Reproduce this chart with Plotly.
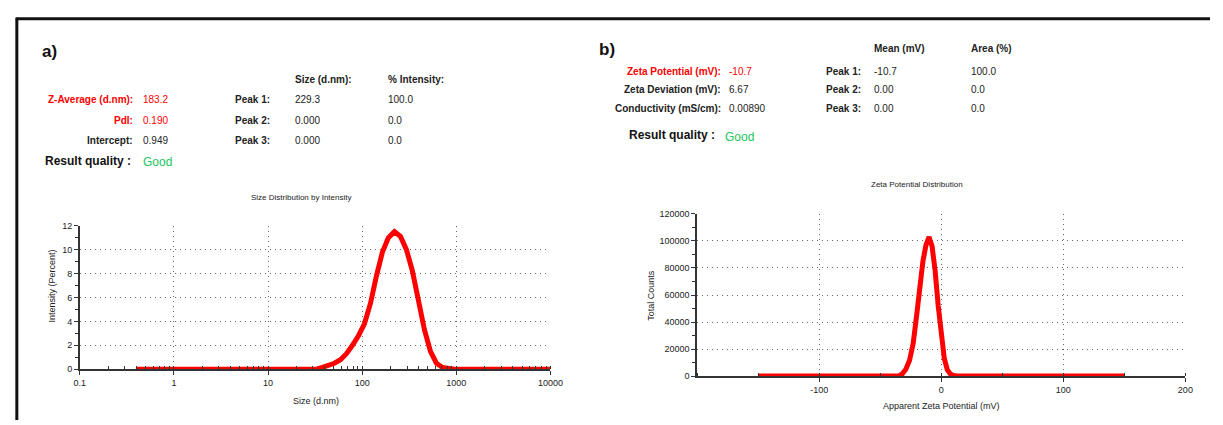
import plotly.graph_objects as go

W, H = 1223, 425

# ---------------- data ----------------
size_nm = [0.4, 1, 10, 28.2, 32.7, 37.8, 43.8, 50.7, 58.8, 68.1, 78.8, 91.3, 105.7,
           122.4, 141.8, 164.2, 190.1, 220.2, 255.0, 295.3, 342.0, 396.1, 458.7,
           531.2, 615.1, 712.4, 825.0, 955.4, 1106, 1281, 10000]
intensity_pct = [0, 0, 0, 0, 0, 0.15, 0.3, 0.5, 0.8, 1.3, 2.0, 2.8, 3.8,
                 5.5, 7.8, 9.8, 11.0, 11.5, 11.1, 10.0, 8.2, 5.8, 3.3,
                 1.5, 0.5, 0.15, 0.05, 0, 0, 0, 0]

zeta_mv = [-150, -35, -32, -29, -26, -23, -20, -17.5, -15, -12.5, -10, -7.5, -5,
           -2.5, 0, 2.5, 5, 7.5, 10, 13, 150]
zeta_counts = [0, 0, 1500, 5000, 11500, 24000, 46000, 70000, 85000, 97000, 103000,
               96000, 78000, 52000, 30000, 13000, 4500, 1500, 400, 0, 0]

size_ticks = [0.1, 1, 10, 100, 1000, 10000]
size_ticktext = ["0.1", "1", "10", "100", "1000", "10000"]
zeta_ticks = [-100, 0, 100, 200]
zeta_ticktext = ["-100", "0", "100", "200"]

# ---------------- figure ----------------
def px(x):
    return x / W

def py(y):
    return 1 - y / H

RED = "#ff0000"
GREEN = "#22c55e"
FONT = "Liberation Sans, Arial, sans-serif"
TXT = "#222222"

fig = go.Figure()
fig.add_trace(go.Scatter(x=size_nm, y=intensity_pct, mode="lines",
                         line=dict(color=RED, width=5), xaxis="x", yaxis="y",
                         showlegend=False, hoverinfo="skip"))
fig.add_trace(go.Scatter(x=zeta_mv, y=zeta_counts, mode="lines",
                         line=dict(color=RED, width=5), xaxis="x2", yaxis="y2",
                         showlegend=False, hoverinfo="skip"))

axis_common = dict(showline=True, linecolor="#333333", linewidth=1.5,
                   showgrid=True, gridcolor="#666666", griddash="1px,4px", gridwidth=1,
                   zeroline=False, tickfont=dict(family=FONT, size=9, color=TXT),
                   ticks="outside", ticklen=4, tickcolor="#333333")

fig.update_layout(
    width=W, height=H,
    margin=dict(l=0, r=0, t=0, b=0),
    paper_bgcolor="white", plot_bgcolor="white",
    xaxis=dict(axis_common, type="log", range=[-1, 4], domain=[px(75), px(553)],
               tickvals=size_ticks, ticktext=size_ticktext, anchor="y",
               minor=dict(ticks="inside", ticklen=3, tickcolor="#333333", dtick="D1",
                          showgrid=False)),
    yaxis=dict(axis_common, range=[0, 12], dtick=2, domain=[py(373), py(226)],
               anchor="x",
               minor=dict(ticks="outside", ticklen=3, tickcolor="#333333", dtick=1,
                          showgrid=False)),
    xaxis2=dict(axis_common, range=[-200, 200], domain=[px(702), px(1198)],
                tickvals=zeta_ticks, ticktext=zeta_ticktext, anchor="y2",
                minor=dict(ticks="inside", ticklen=3, tickcolor="#333333", dtick=50,
                           showgrid=False)),
    yaxis2=dict(axis_common, range=[0, 120000], dtick=20000, tickformat="d",
                domain=[py(380), py(214)], anchor="x2",
                minor=dict(ticks="outside", ticklen=3, tickcolor="#333333", dtick=10000,
                           showgrid=False)),
)

# outer frame (only the top and left edges are inside the picture)
fig.add_shape(type="line", xref="paper", yref="paper",
              x0=px(10), y0=py(14), x1=1, y1=py(14),
              line=dict(color="#111111", width=3))
fig.add_shape(type="line", xref="paper", yref="paper",
              x0=px(11), y0=py(13), x1=px(11), y1=0,
              line=dict(color="#111111", width=3))

ann = []

def text(x, y, s, size=10, color=TXT, bold=False, anchor="left", angle=0):
    t = f"<b>{s}</b>" if bold else s
    ann.append(dict(x=px(x), y=py(y), xref="paper", yref="paper", text=t,
                    showarrow=False, xanchor=anchor, yanchor="middle", textangle=angle,
                    font=dict(family=FONT, size=size, color=color)))

# ----- panel a -----
text(35, 48, "a)", size=17, color="#111111", bold=True)
text(292, 76, "Size (d.nm):", bold=True)
text(386, 76, "% Intensity:", bold=True)
rows_a = [("Z-Average (d.nm):", "183.2", RED), ("PdI:", "0.190", RED),
          ("Intercept:", "0.949", TXT)]
peaks_a = [("Peak 1:", "229.3", "100.0"), ("Peak 2:", "0.000", "0.0"),
           ("Peak 3:", "0.000", "0.0")]
for i, y in enumerate([97, 118, 139]):
    lab, val, col = rows_a[i]
    text(131, y, lab, color=col, bold=True, anchor="right")
    text(137, y, val, color=col)
    text(231, y, peaks_a[i][0], bold=True)
    text(292, y, peaks_a[i][1])
    text(386, y, peaks_a[i][2])
text(129, 160, "Result quality :", size=12, color="#111111", bold=True, anchor="right")
text(137, 161, "Good", size=12, color=GREEN)
text(300, 197, "Size Distribution by Intensity", size=8, anchor="center")
text(47, 288, "Intensity (Percent)", size=9, anchor="center", angle=-90)
text(315, 406, "Size (d.nm)", size=9, anchor="center")

# ----- panel b -----
text(600, 46, "b)", size=17, color="#111111", bold=True)
text(880, 45, "Mean (mV)", bold=True)
text(978, 45, "Area (%)", bold=True)
rows_b = [("Zeta Potential (mV):", "-10.7", RED), ("Zeta Deviation (mV):", "6.67", TXT),
          ("Conductivity (mS/cm):", "0.00890", TXT)]
peaks_b = [("Peak 1:", "-10.7", "100.0"), ("Peak 2:", "0.00", "0.0"),
           ("Peak 3:", "0.00", "0.0")]
for i, y in enumerate([68, 87, 106]):
    lab, val, col = rows_b[i]
    text(728, y, lab, color=col, bold=True, anchor="right")
    text(732, y, val, color=col)
    text(831, y, peaks_b[i][0], bold=True)
    text(880, y, peaks_b[i][1])
    text(978, y, peaks_b[i][2])
text(722, 133, "Result quality :", size=12, color="#111111", bold=True, anchor="right")
text(728, 135, "Good", size=12, color=GREEN)
text(925, 184, "Zeta Potential Distribution", size=8, anchor="center")
text(655, 297, "Total Counts", size=9, anchor="center", angle=-90)
text(950, 411, "Apparent Zeta Potential (mV)", size=9, anchor="center")

fig.update_layout(annotations=ann)
fig.write_html(
    "out.html", config={"displayModeBar": False},
    post_script=("document.documentElement.style.overflow='hidden';"
                 "document.body.style.margin='0';"))
